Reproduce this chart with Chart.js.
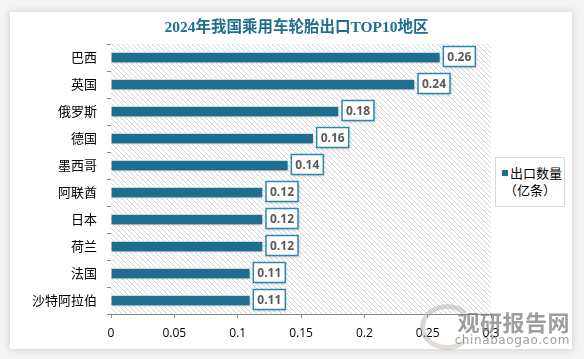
<!DOCTYPE html>
<html>
<head>
<meta charset="utf-8">
<script src="https://cdn.jsdelivr.net/npm/chart.js@4/dist/chart.umd.min.js"></script>
<style>
  body { margin: 0; background: #f4f4f4; width: 584px; height: 359px; overflow: hidden; font-family: "Noto Sans CJK SC", sans-serif; }
  #card { position: absolute; left: 10px; top: 12px; width: 562px; height: 337px; background: #fff; box-shadow: 0 0 8px rgba(0,0,0,0.18); }
  #chart { position: absolute; left: 0; top: 0; }
  #title { position: absolute; left: 0; width: 573px; top: 5px; text-align: center; color: #1f6e8f; font-family: "Liberation Serif", "Noto Sans CJK SC", serif; font-weight: bold; font-size: 15.5px; line-height: 20px; }
  #legend { position: absolute; left: 485px; top: 145px; width: 68px; height: 48px; border: 1px solid #d9d9d9; background: #fff; font-size: 13px; line-height: 17px; color: #000; }
  #legend .sw { display: inline-block; width: 6px; height: 6px; background: #1f6e8f; margin: 0 2px 2px 6px; vertical-align: middle; }
  #legend .l2 { padding-left: 8px; }
  #wm { position: absolute; right: 2px; bottom: 2px; text-align: right; color: rgba(125,125,125,0.75); font-family: "Noto Sans CJK SC", sans-serif; }
  #wm .big { font-size: 22px; font-weight: bold; line-height: 24px; letter-spacing: 0.5px; }
  #wm .small { font-family: "DejaVu Sans", sans-serif; font-size: 12px; line-height: 14px; letter-spacing: 0.6px; }
  #logo { position: absolute; left: 410px; top: 292px; width: 44px; height: 36px; border-radius: 50%; border: 5px solid rgba(170,170,170,0.45); border-right-color: transparent; border-bottom-color: rgba(200,190,170,0.5); }
</style>
</head>
<body>
<div id="card">
  <canvas id="chart" width="562" height="337"></canvas>
  <div id="title">2024年我国乘用车轮胎出口TOP10地区</div>
  <div id="legend"><div style="margin-top:6px"><span class="sw"></span>出口数量</div><div class="l2">（亿条）</div></div>
  <div id="logo"></div>
  <div id="wm"><div class="big">观研报告网</div><div class="small">chinabaogao.com</div></div>
</div>
<script>
const regions = ['巴西', '英国', '俄罗斯', '德国', '墨西哥', '阿联酋', '日本', '荷兰', '法国', '沙特阿拉伯'];
const exports2024 = [0.26, 0.24, 0.18, 0.16, 0.14, 0.12, 0.12, 0.12, 0.11, 0.11];
const xTicks = [0, 0.05, 0.1, 0.15, 0.2, 0.25, 0.3];

// hatched plot background
const pat = document.createElement('canvas');
pat.width = 5; pat.height = 5;
const pctx = pat.getContext('2d');
pctx.fillStyle = '#fff';
pctx.fillRect(0, 0, 5, 5);
pctx.strokeStyle = '#d4d4d4';
pctx.lineWidth = 1;
pctx.beginPath();
pctx.moveTo(-1, -1); pctx.lineTo(6, 6);
pctx.moveTo(-1, 4); pctx.lineTo(1, 6);
pctx.moveTo(4, -1); pctx.lineTo(6, 1);
pctx.stroke();

const hatch = {
    id: 'hatch',
    beforeDatasetsDraw(c) {
        const a = c.chartArea;
        const ctx = c.ctx;
        ctx.save();
        ctx.fillStyle = ctx.createPattern(pat, 'repeat');
        ctx.fillRect(a.left, a.top, a.right - a.left, a.bottom - a.top);
        ctx.restore();
    }
};

const barShadow = {
    id: 'barShadow',
    beforeDatasetDraw(c) {
        c.ctx.save();
        c.ctx.shadowColor = 'rgba(0,0,0,0.3)';
        c.ctx.shadowBlur = 3;
        c.ctx.shadowOffsetY = 2;
    },
    afterDatasetDraw(c) {
        c.ctx.restore();
    }
};

// value boxes at bar ends
const valueBoxes = {
    id: 'valueBoxes',
    afterDatasetsDraw(c) {
        const ctx = c.ctx;
        const meta = c.getDatasetMeta(0);
        ctx.save();
        ctx.font = 'bold 12px "Open Sans", sans-serif';
        meta.data.forEach((bar, i) => {
            const txt = exports2024[i].toFixed(2);
            const w = 32, h = 20;
            const x = bar.x + 3, y = bar.y - h / 2 - 1;
            ctx.shadowColor = 'rgba(0,0,0,0.25)';
            ctx.shadowBlur = 3;
            ctx.shadowOffsetX = 1;
            ctx.shadowOffsetY = 1;
            ctx.fillStyle = '#fff';
            ctx.fillRect(x, y, w, h);
            ctx.shadowColor = 'transparent';
            ctx.strokeStyle = '#2a86b4';
            ctx.lineWidth = 1.5;
            ctx.strokeRect(x, y, w, h);
            ctx.fillStyle = '#595959';
            ctx.textAlign = 'center';
            ctx.textBaseline = 'middle';
            ctx.fillText(txt, x + w / 2, y + h / 2 + 1);
        });
        ctx.restore();
    }
};

new Chart(document.querySelector('#chart').getContext('2d'), {
    type: 'bar',
    data: {
        labels: regions,
        datasets: [
            {
                label: '出口数量（亿条）',
                data: exports2024,
                backgroundColor: '#1f6e8f',
                borderColor: '#fff',
                borderWidth: 1,
                barThickness: 11
            }
        ]
    },
    options: {
        indexAxis: 'y',
        responsive: false,
        animation: false,
        layout: { padding: { top: 32, right: 81, left: 0 } },
        plugins: {
            legend: { display: false },
            tooltip: { enabled: false },
            title: { display: false }
        },
        scales: {
            x: {
                min: 0,
                max: 0.3,
                afterBuildTicks: s => { s.ticks = xTicks.map(v => ({ value: v })); },
                ticks: { color: '#000', padding: 8, font: { family: '"Open Sans", sans-serif', size: 12 }, callback: v => String(v) },
                grid: { drawOnChartArea: false, drawTicks: true, tickLength: 4, color: '#888' },
                border: { color: '#888' },
                afterFit: s => { s.height = 35; }
            },
            y: {
                ticks: { color: '#000', padding: 10, font: { family: '"Noto Sans CJK SC", sans-serif', size: 13 } },
                grid: { drawOnChartArea: false, drawTicks: true, tickLength: 4, color: '#888', offset: true },
                border: { color: '#888' },
                afterFit: s => { s.width = 101; }
            }
        }
    },
    plugins: [hatch, barShadow, valueBoxes]
});
</script>
</body>
</html>
